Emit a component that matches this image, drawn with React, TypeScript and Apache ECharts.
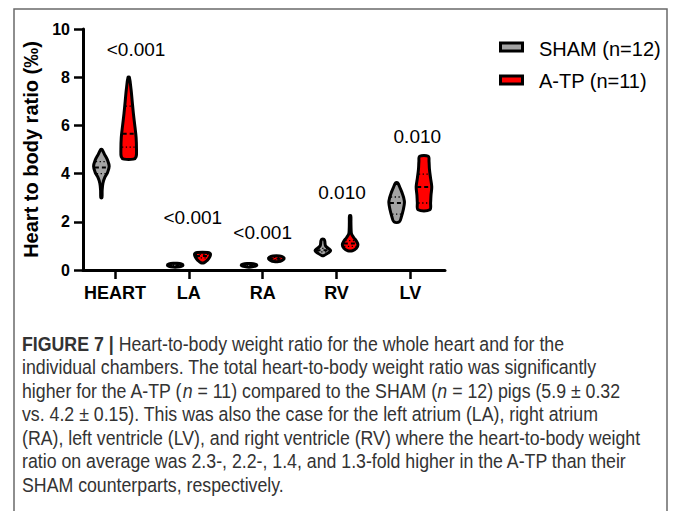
import React, { useEffect, useRef } from "react";
import * as echarts from "echarts";

const categories = ["HEART", "LA", "RA", "RV", "LV"];
const groupNames = ["SHAM (n=12)", "A-TP (n=11)"];

// violin density profiles: [value, relative width]
const shamProfiles: number[][][] = [
  [[3.0, 0.07], [3.3, 0.1], [3.6, 0.2], [3.85, 0.45], [4.05, 0.8], [4.3, 1.0], [4.55, 0.8], [4.8, 0.4], [5.0, 0.08]],
  [[0.12, 0.25], [0.15, 0.8], [0.2, 1.0], [0.25, 0.8], [0.28, 0.25]],
  [[0.12, 0.25], [0.16, 0.85], [0.2, 1.0], [0.24, 0.8], [0.27, 0.25]],
  [[0.6, 0.12], [0.7, 0.65], [0.8, 1.0], [0.9, 0.7], [1.0, 0.35], [1.1, 0.28], [1.2, 0.25], [1.27, 0.15]],
  [[2.0, 0.35], [2.2, 0.6], [2.5, 0.85], [2.8, 1.0], [3.0, 0.9], [3.2, 0.7], [3.4, 0.45], [3.62, 0.12]],
];
const atpProfiles: number[][][] = [
  [[4.6, 0.6], [4.7, 0.95], [5.0, 1.0], [5.5, 0.95], [6.0, 0.78], [6.5, 0.6], [7.0, 0.45], [7.5, 0.3], [8.0, 0.08]],
  [[0.3, 0.2], [0.4, 0.6], [0.5, 0.85], [0.6, 1.0], [0.68, 1.0], [0.73, 0.7]],
  [[0.35, 0.3], [0.4, 0.75], [0.47, 1.0], [0.53, 0.9], [0.58, 0.45]],
  [[0.8, 0.3], [0.9, 0.8], [1.05, 1.0], [1.2, 0.8], [1.35, 0.45], [1.5, 0.18], [1.7, 0.12], [2.0, 0.1], [2.25, 0.08]],
  [[2.5, 0.75], [2.8, 0.85], [3.1, 0.9], [3.45, 1.0], [3.8, 0.85], [4.2, 0.7], [4.5, 0.65], [4.72, 0.55]],
];
// [Q1, median, Q3]
const shamQuartiles = [[4.0, 4.25, 4.5], [0.18, 0.2, 0.23], [0.18, 0.2, 0.22], [0.75, 0.82, 0.9], [2.32, 2.78, 3.03]];
const atpQuartiles = [[5.1, 5.65, 6.8], [0.5, 0.58, 0.65], [0.43, 0.47, 0.52], [0.98, 1.1, 1.22], [2.78, 3.44, 3.98]];

const pLabels = ["<0.001", "<0.001", "<0.001", "0.010", "0.010"];
const pLabelX = [1.285, 2.054, 3.0, 4.075, 5.095];
const pLabelY = [9.17, 2.16, 1.54, 3.2, 5.52];

const yTicks = [0, 2, 4, 6, 8, 10];

const captionLines = [
  "{b|FIGURE 7 |} Heart-to-body weight ratio for the whole heart and for the",
  "individual chambers. The total heart-to-body weight ratio was significantly",
  "higher for the A-TP ({i|n} = 11) compared to the SHAM ({i|n} = 12) pigs (5.9 ± 0.32",
  "vs. 4.2 ± 0.15). This was also the case for the left atrium (LA), right atrium",
  "(RA), left ventricle (LV), and right ventricle (RV) where the heart-to-body weight",
  "ratio on average was 2.3-, 2.2-, 1.4, and 1.3-fold higher in the A-TP than their",
  "SHAM counterparts, respectively.",
];

const FONT = "'Liberation Sans', Arial, Helvetica, sans-serif";
const GRAY = "#a3a3a3";
const RED = "#ff0000";
const OFFSET = 0.185;
const HALF = 7.8;
const SWATCH = [GRAY, RED];

function widthAt(prof: number[][], v: number) {
  if (v <= prof[0][0]) return prof[0][1];
  for (let k = 1; k < prof.length; k++) {
    if (v <= prof[k][0]) {
      const t = (v - prof[k - 1][0]) / (prof[k][0] - prof[k - 1][0]);
      return prof[k - 1][1] + t * (prof[k][1] - prof[k - 1][1]);
    }
  }
  return prof[prof.length - 1][1];
}

function makeViolin(profiles: number[][][], quartiles: number[][], fill: string) {
  return (params: any, api: any) => {
    const i = params.dataIndex;
    const xVal = api.value(0);
    const prof = profiles[i];
    const right: number[][] = [];
    const left: number[][] = [];
    prof.forEach(([v, w]) => {
      const p = api.coord([xVal, v]);
      right.push([p[0] + w * HALF, p[1]]);
      left.unshift([p[0] - w * HALF, p[1]]);
    });
    const children: any[] = [
      {
        type: "polygon",
        shape: { points: right.concat(left), smooth: 0.35 },
        style: { fill, stroke: "#000", lineWidth: 3, lineJoin: "round" },
      },
    ];
    quartiles[i].forEach((q, k) => {
      const p = api.coord([xVal, q]);
      const hw = widthAt(prof, q) * HALF - 1;
      if (hw <= 0.5) return;
      children.push({
        type: "line",
        shape: { x1: p[0] - hw, y1: p[1], x2: p[0] + hw, y2: p[1] },
        style: {
          stroke: "#000",
          lineWidth: k === 1 ? 2 : 1.3,
          lineDash: k === 1 ? [4, 3] : [1.3, 2.5],
        },
      });
    });
    return { type: "group", children };
  };
}

export default function App() {
  const ref = useRef<HTMLDivElement>(null);
  useEffect(() => {
    if (!ref.current) return;
    const chart = echarts.init(ref.current, null, { renderer: "svg" });
    const option: any = {
      animation: false,
      backgroundColor: "#fff",
      textStyle: { fontFamily: FONT },
      grid: { left: 83, top: 29, width: 362, height: 241 },
      legend: {
        orient: "vertical",
        left: 497,
        top: 34,
        itemGap: 12,
        icon: "rect",
        itemWidth: 23,
        itemHeight: 8,
        textStyle: { fontSize: 20, color: "#000", fontFamily: FONT, padding: [0, 0, 0, 9] },
        itemStyle: { color: "rgba(0,0,0,0)", borderWidth: 0 },
        data: groupNames.map((n) => ({ name: n, itemStyle: { color: "rgba(0,0,0,0)", borderWidth: 0 } })),
      },
      xAxis: {
        type: "value",
        min: 0.566,
        max: 5.47,
        splitLine: { show: false },
        axisLine: { onZero: false, lineStyle: { color: "#000", width: 3 } },
        axisTick: { show: true, customValues: [1, 2, 3, 4, 5], length: 9, lineStyle: { color: "#000", width: 2.5 } },
        axisLabel: {
          customValues: [1, 2, 3, 4, 5],
          formatter: (v: number) => categories[Math.round(v) - 1] ?? "",
          fontSize: 18,
          fontWeight: "bold",
          color: "#000",
          margin: 14,
          fontFamily: FONT,
        },
      },
      yAxis: {
        type: "value",
        min: yTicks[0],
        max: yTicks[yTicks.length - 1],
        interval: 2,
        name: "Heart to body ratio (‰)",
        nameLocation: "middle",
        nameGap: 41,
        nameTextStyle: { fontSize: 20, fontWeight: "bold", color: "#000", fontFamily: FONT },
        splitLine: { show: false },
        axisLine: { show: true, onZero: false, lineStyle: { color: "#000", width: 3 } },
        axisTick: { show: true, length: 9, lineStyle: { color: "#000", width: 2.5 } },
        axisLabel: { fontSize: 16, fontWeight: "bold", color: "#000", margin: 13, fontFamily: FONT },
      },
      series: [
        {
          name: groupNames[0],
          type: "custom",
          itemStyle: { color: GRAY, borderColor: "#000", borderWidth: 3 },
          renderItem: makeViolin(shamProfiles, shamQuartiles, GRAY),
          data: categories.map((_, i) => [i + 1 - OFFSET, 0]),
          clip: false,
        },
        {
          name: groupNames[1],
          type: "custom",
          itemStyle: { color: RED, borderColor: "#000", borderWidth: 3 },
          renderItem: makeViolin(atpProfiles, atpQuartiles, RED),
          data: categories.map((_, i) => [i + 1 + OFFSET, 0]),
          clip: false,
        },
        {
          name: "p",
          type: "custom",
          renderItem: (params: any, api: any) => {
            const p = api.coord([api.value(0), api.value(1)]);
            return {
              type: "text",
              x: p[0],
              y: p[1],
              style: {
                text: pLabels[params.dataIndex],
                fontSize: 19,
                fontFamily: FONT,
                fill: "#000",
                align: "center",
                verticalAlign: "middle",
              },
            };
          },
          data: pLabelX.map((x, i) => [x, pLabelY[i]]),
          clip: false,
        },
      ],
      graphic: [
        {
          type: "rect",
          silent: true,
          z: -10,
          shape: { x: 14, y: 9, width: 653, height: 520 },
          style: { fill: "none", stroke: "#6a6a6a", lineWidth: 1.5 },
        },
        ...SWATCH.map((c, k) => ({
          type: "rect",
          silent: true,
          z: 10,
          shape: { x: 500.5, y: 43 + k * 33, width: 22, height: 8 },
          style: { fill: c, stroke: "#000", lineWidth: 3, lineJoin: "miter" },
        })),
        ...captionLines.map((t, k) => ({
          type: "text",
          silent: true,
          x: 22,
          y: 344 + k * 23.5,
          scaleX: 0.91,
          style: {
            text: t,
            fontSize: 19.5,
            fontFamily: FONT,
            fill: "#333",
            verticalAlign: "middle",
            rich: {
              b: { fontSize: 19.5, fontFamily: FONT, fontWeight: "bold", fill: "#333" },
              i: { fontSize: 19.5, fontFamily: FONT, fontStyle: "italic", fill: "#333" },
            },
          },
        })),
      ],
    };
    chart.setOption(option);
    return () => chart.dispose();
  }, []);
  return (
    <div
      ref={ref}
      style={{ position: "absolute", left: 0, top: 0, width: 675, height: 511 }}
    />
  );
}
